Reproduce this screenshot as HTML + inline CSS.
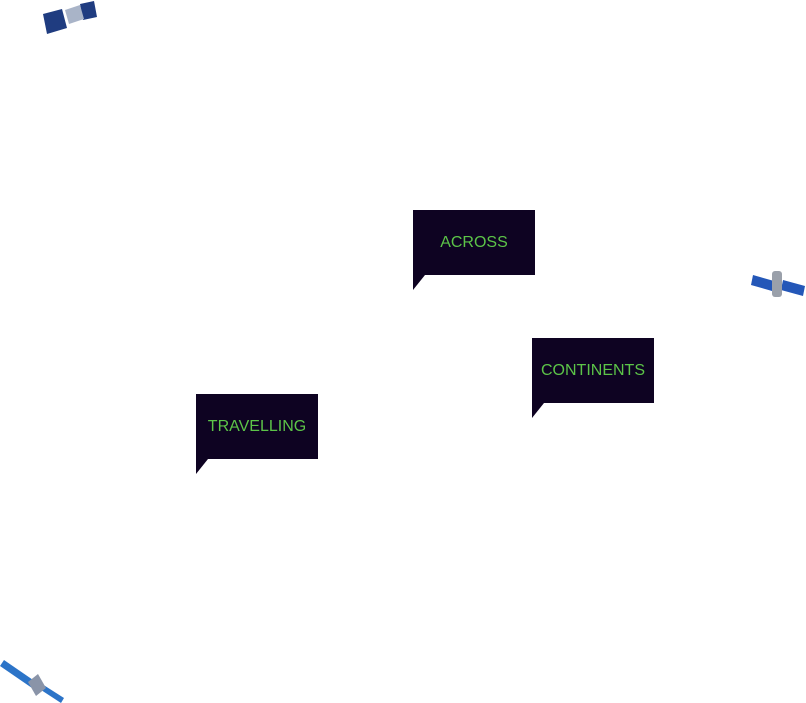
<!DOCTYPE html>
<html><head><style>
html,body{margin:0;padding:0;background:#fff;width:806px;height:703px;overflow:hidden;position:relative;font-family:"Liberation Sans",sans-serif}
.b{position:absolute;width:122px;height:65px;background:#0e0322;color:#5cc448;font-size:16px;display:flex;align-items:center;justify-content:center}
.t{position:absolute;width:0;height:0;border-top:15px solid #0e0322;border-right:12px solid transparent}
svg{position:absolute}
</style></head><body>
<div class="b" style="left:413px;top:210px">ACROSS</div><div class="t" style="left:413px;top:275px"></div>
<div class="b" style="left:532px;top:338px">CONTINENTS</div><div class="t" style="left:532px;top:403px"></div>
<div class="b" style="left:196px;top:394px">TRAVELLING</div><div class="t" style="left:196px;top:459px"></div>

<svg style="left:40px;top:0" width="60" height="40" viewBox="0 0 60 40">
<polygon points="3,14 22,9 27,28 7,34" fill="#1f3c80"/>
<polygon points="40,4 54,1 57,17 43,20" fill="#1f3c80"/>
<polygon points="25,10 40,5 44,19 29,24" fill="#a9b4c8"/>
</svg>
<svg style="left:750px;top:265px" width="56" height="35" viewBox="0 0 56 35">
<polygon points="3,10 24,16 22,26 1,20" fill="#2457b8"/>
<polygon points="33,15 55,21 53,31 31,25" fill="#2457b8"/>
<rect x="22" y="6" width="10" height="26" rx="3" fill="#9aa0aa"/>
</svg>
<svg style="left:0;top:660px" width="66" height="43" viewBox="0 0 66 43">
<polygon points="0,6 4,0 36,22 32,28" fill="#2c74c8"/>
<polygon points="38,28 42,24 64,38 61,43" fill="#2c74c8"/>
<polygon points="28,22 38,14 46,28 36,36" fill="#8a94a8"/>
</svg>
</body></html>
